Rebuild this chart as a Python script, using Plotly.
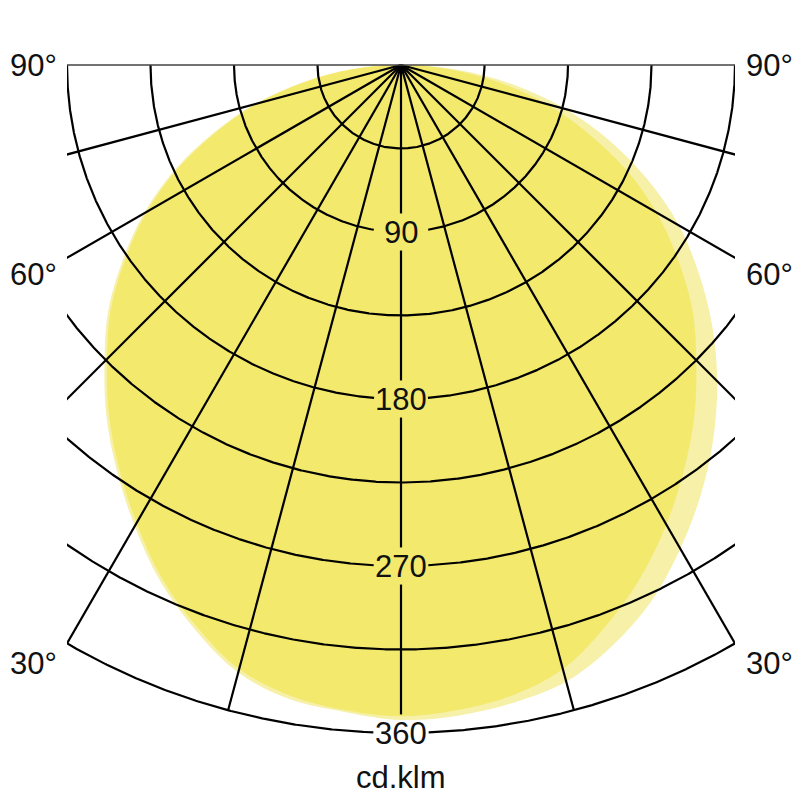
import numpy as np
import plotly.graph_objects as go

# ---------------- data ----------------
gamma_deg = [0, 5, 10, 15, 20, 25, 30, 35, 40, 45, 50, 55, 60, 65, 70, 75, 80, 85, 90]
# plane C0-C180 (symmetric, darker fill)
c0_cdklm   = [351, 349, 345, 337, 322, 305, 286, 266, 246, 225, 205, 182, 159, 134, 107, 81, 53, 26, 0]
c180_cdklm = [351, 349, 345, 337, 322, 305, 285, 265, 245, 224, 204, 181, 158, 133, 106, 80, 52, 26, 0]
# plane C90-C270 (lighter fill, wider on the right)
c90_cdklm  = [353, 352, 349, 344, 333, 319, 301, 282, 262, 241, 219, 196, 173, 147, 120, 92, 62, 31, 0]
c270_cdklm = [352, 350, 347, 339, 324, 307, 287, 267, 247, 226, 206, 183, 160, 135, 108, 82, 54, 27, 0]

grid_radii = [45, 90, 135, 180, 225, 270, 315, 360]
labelled_radii = [90, 180, 270, 360]
spoke_angles = [-75, -60, -45, -30, -15, 15, 30, 45, 60, 75]
angle_labels = ["90°", "60°", "30°"]
unit_label = "cd.klm"

# ---------------- layout geometry ----------------
OFF = 8                      # page body margin in the browser
FW, FH = 801 - OFF, 799 - OFF
ML, MR, MT, MB = 67 - OFF, 66, 60 - OFF, 47
PW, PH = FW - ML - MR, FH - MT - MB
scale = PW / 360.0
y_top = (65 - OFF - MT) / scale
y_bot = y_top - PH / scale

def px2paper(px, py):
    return (px - OFF - ML) / PW, 1 - (py - OFF - MT) / PH

fig = go.Figure()

def curve(left, right):
    g = np.radians(np.array(gamma_deg, dtype=float))
    rl = np.array(left, dtype=float)
    rr = np.array(right, dtype=float)
    xr = rr * np.sin(g)
    yr = -rr * np.cos(g)
    xl = -rl * np.sin(g)
    yl = -rl * np.cos(g)
    x = np.concatenate([xr[::-1], xl[1:]])
    y = np.concatenate([yr[::-1], yl[1:]])
    return x, y

x, y = curve(c270_cdklm, c90_cdklm)
fig.add_trace(go.Scatter(x=x, y=y, mode="lines", fill="toself",
                         fillcolor="#F6F0A8", line=dict(width=0, color="#F6F0A8", shape="spline"),
                         hoverinfo="skip", showlegend=False))
x, y = curve(c180_cdklm, c0_cdklm)
fig.add_trace(go.Scatter(x=x, y=y, mode="lines", fill="toself",
                         fillcolor="#F3E96C", line=dict(width=0, color="#F3E96C", shape="spline"),
                         hoverinfo="skip", showlegend=False))

# ---------------- grid ----------------
gx, gy = [], []
GAPX = 14.5   # half-width of label gap on arcs (units)
GAPY = 10.0   # half-height of label gap on vertical spoke
t = np.radians(np.linspace(-90, 90, 1441))
for R in grid_radii:
    ax = R * np.sin(t)
    ay = -R * np.cos(t)
    for xv, yv in zip(ax, ay):
        if R in labelled_radii and abs(xv) < GAPX:
            gx.append(None)
            gy.append(None)
        else:
            gx.append(float(xv))
            gy.append(float(yv))
    gx.append(None)
    gy.append(None)
for a in spoke_angles:
    ar = np.radians(a)
    gx += [0, 360 * np.sin(ar), None]
    gy += [0, -360 * np.cos(ar), None]
# vertical spoke with gaps at labels
prev = 0
for R in labelled_radii:
    gx += [0, 0, None]
    gy += [-prev, -(R - GAPY), None]
    prev = R + GAPY

fig.add_trace(go.Scatter(x=gx, y=gy, mode="lines", line=dict(color="#000000", width=2.2),
                         connectgaps=False, hoverinfo="skip", showlegend=False))
# top line (gamma = 90)
fig.add_trace(go.Scatter(x=[-180, 180], y=[0, 0], mode="lines",
                         line=dict(color="#444444", width=1.5),
                         hoverinfo="skip", showlegend=False))

FONT = dict(family="Liberation Sans, Arial, sans-serif", size=31, color="#111111")
ann = []
for R in labelled_radii:
    ann.append(dict(x=0, y=-R, xref="x", yref="y", text=str(R), showarrow=False,
                    xanchor="center", yanchor="middle", font=FONT))
label_py = [65, 274, 663]
for txt, py in zip(angle_labels, label_py):
    xl, yl = px2paper(59, py)
    ann.append(dict(x=xl, y=yl, xref="paper", yref="paper", text=txt, showarrow=False,
                    xanchor="right", yanchor="middle", font=FONT))
    xr, yr = px2paper(744, py)
    ann.append(dict(x=xr, y=yr, xref="paper", yref="paper", text=txt, showarrow=False,
                    xanchor="left", yanchor="middle", font=FONT))
xu, yu = px2paper(401, 777)
ann.append(dict(x=xu, y=yu, xref="paper", yref="paper", text=unit_label, showarrow=False,
                xanchor="center", yanchor="middle", font=FONT))

fig.update_layout(
    width=FW, height=FH,
    margin=dict(l=ML, r=MR, t=MT, b=MB, pad=0),
    paper_bgcolor="white", plot_bgcolor="white",
    xaxis=dict(range=[-180, 180], visible=False, showgrid=False, zeroline=False, fixedrange=True),
    yaxis=dict(range=[y_bot, y_top], visible=False, showgrid=False, zeroline=False, fixedrange=True),
    annotations=ann,
    showlegend=False,
)

fig.write_html("out.html")
